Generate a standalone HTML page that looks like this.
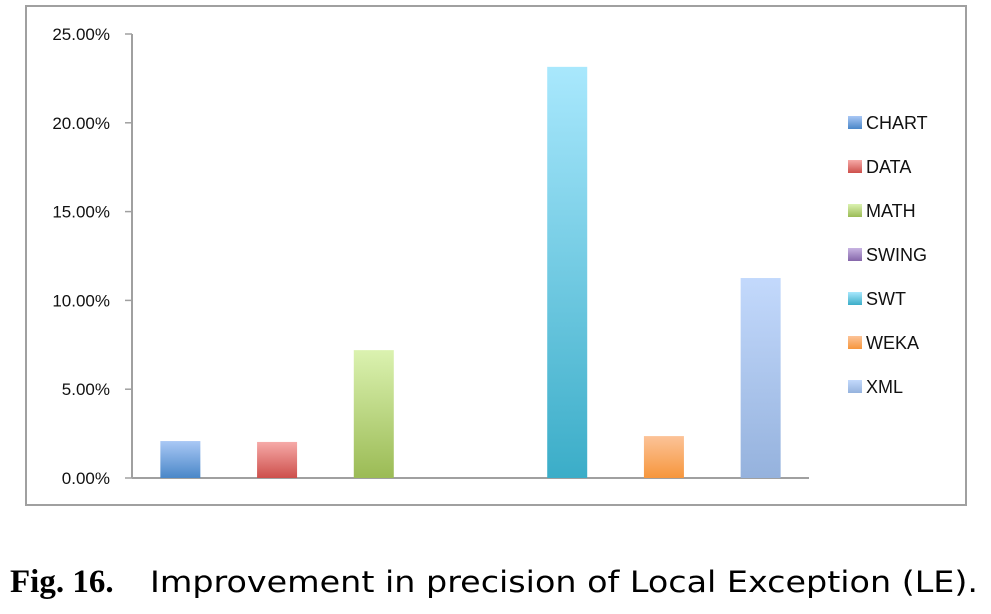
<!DOCTYPE html>
<html><head><meta charset="utf-8"><style>
body{margin:0;background:#fff;}
svg{display:block;font-family:"Liberation Sans",Arial,sans-serif;}
</style></head><body>
<svg width="991" height="614" viewBox="0 0 991 614">
<defs>
<linearGradient id="g0" x1="0" y1="0" x2="0" y2="1"><stop offset="0" stop-color="#a9c8f5"/><stop offset="1" stop-color="#4a87c8"/></linearGradient>
<linearGradient id="g1" x1="0" y1="0" x2="0" y2="1"><stop offset="0" stop-color="#f6aaa8"/><stop offset="1" stop-color="#cd4f4b"/></linearGradient>
<linearGradient id="g2" x1="0" y1="0" x2="0" y2="1"><stop offset="0" stop-color="#dbf2b0"/><stop offset="1" stop-color="#9bbb55"/></linearGradient>
<linearGradient id="g3" x1="0" y1="0" x2="0" y2="1"><stop offset="0" stop-color="#c8b4e2"/><stop offset="1" stop-color="#8566aa"/></linearGradient>
<linearGradient id="g4" x1="0" y1="0" x2="0" y2="1"><stop offset="0" stop-color="#a9e8fd"/><stop offset="1" stop-color="#3badc8"/></linearGradient>
<linearGradient id="g5" x1="0" y1="0" x2="0" y2="1"><stop offset="0" stop-color="#fcc398"/><stop offset="1" stop-color="#f6963c"/></linearGradient>
<linearGradient id="g6" x1="0" y1="0" x2="0" y2="1"><stop offset="0" stop-color="#c3d9fc"/><stop offset="1" stop-color="#95b2dd"/></linearGradient>
</defs>
<rect x="26" y="6" width="940" height="499" fill="#fff" stroke="#a0a0a0" stroke-width="2"/>
<g id="axes"></g>
<g id="bars"></g>
<g id="legend"></g>
<text x="10" y="592" font-family="'Liberation Serif',serif" font-weight="bold" font-size="33" fill="#000">Fig. 16.</text>
<text x="150" y="592" font-family="'DejaVu Sans','Liberation Sans',sans-serif" font-size="29" fill="#000" textLength="828" lengthAdjust="spacingAndGlyphs">Improvement in precision of Local Exception (LE).</text>
</svg>
<script>
const categories=["CHART","DATA","MATH","SWING","SWT","WEKA","XML"];
const values=[2.08,2.03,7.2,0,23.15,2.36,11.26];
const yTicks=[0,5,10,15,20,25];
const yTickLabels=["0.00%","5.00%","10.00%","15.00%","20.00%","25.00%"];
const NS="http://www.w3.org/2000/svg";
const x0=132,x1=809,yb=478,yt=34,ymax=25;
const y=v=>yb-(v/ymax)*(yb-yt);
const band=(x1-x0)/categories.length;
const xc=i=>x0+band*(i+0.5);
function mk(t,a,p){const e=document.createElementNS(NS,t);for(const k in a)e.setAttribute(k,a[k]);p.appendChild(e);return e;}
const ax=document.getElementById('axes');
let yl=mk('line',{x1:x0,y1:yt,x2:x0,y2:yb,stroke:'#a0a0a0','stroke-width':2},ax);


let xl=mk('line',{x1:x0,y1:yb,x2:x1,y2:yb,stroke:'#a0a0a0','stroke-width':2},ax);


yTicks.forEach((t,i)=>{
  const tk=mk('line',{x1:x0-7,y1:y(t),x2:x0,y2:y(t),stroke:'#a0a0a0','stroke-width':1.5},ax);
  
  
  const tx=mk('text',{x:x0-22,y:y(t)+6,'text-anchor':'end','font-size':17,fill:'#111'},ax);
  tx.textContent=yTickLabels[i];
  
  
});
const bg=document.getElementById('bars');
values.forEach((v,i)=>{
  if(v<=0)return;
  const r=mk('rect',{x:xc(i)-20,y:y(v),width:40,height:yb-y(v),fill:'url(#g'+i+')'},bg);
  
  
});
const lg=document.getElementById('legend');
categories.forEach((c,i)=>{
  const yy=123+i*44;
  const s=mk('rect',{x:848,y:yy-7,width:14,height:13,fill:'url(#g'+i+')'},lg);
  
  
  const t=mk('text',{x:866,y:yy+6,'font-size':18,fill:'#111'},lg);
  t.textContent=c;
  
  
});
</script>
</body></html>
